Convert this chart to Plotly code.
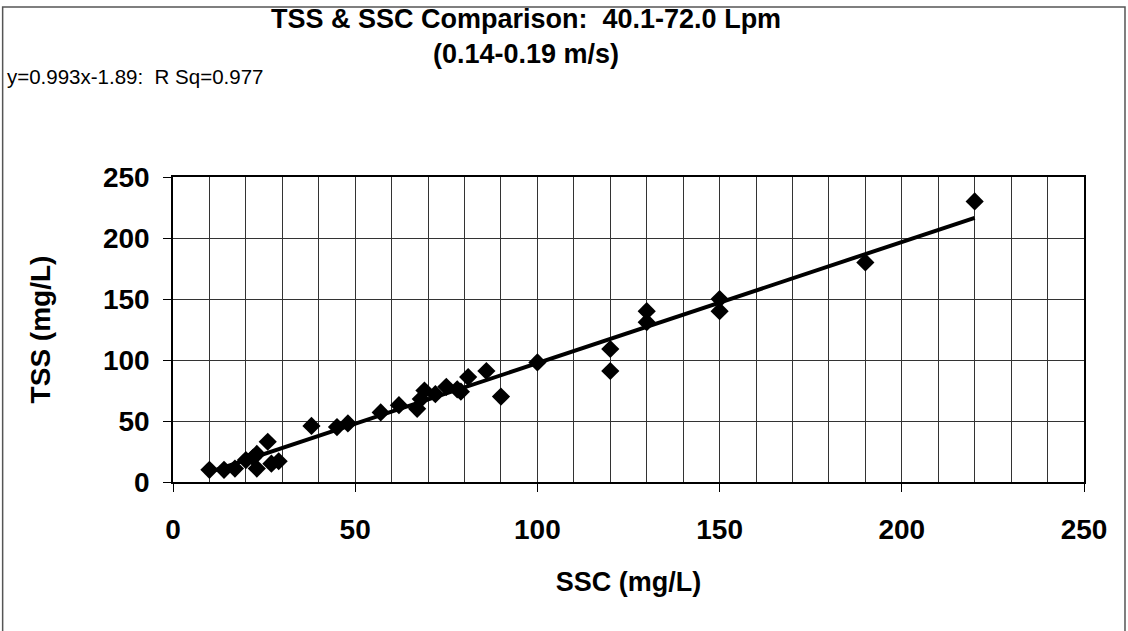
import plotly.graph_objects as go

# SSC (x) and TSS (y) readings, mg/L
ssc = [10, 14, 17, 20, 22, 23, 23, 26, 27, 29, 38, 45, 48, 57, 62, 67, 68, 69,
       72, 75, 78, 79, 81, 86, 90, 100, 120, 120, 130, 130, 150, 150, 190, 220]
tss = [10, 10, 11, 18, 20, 23, 11, 33, 15, 17, 46, 45, 48, 57, 63, 60, 68, 75,
       72, 78, 76, 74, 86, 91, 70, 98, 109, 91, 140, 131, 150, 140, 180, 230]

# regression reported on the chart
slope, intercept = 0.993, -1.89
fit_x = [min(ssc), max(ssc)]
fit_y = [slope * v + intercept for v in fit_x]

FONT = "Liberation Sans, Arial, sans-serif"

fig = go.Figure()
fig.add_trace(go.Scatter(x=fit_x, y=fit_y, mode="lines",
                         line=dict(color="black", width=4), showlegend=False))
fig.add_trace(go.Scatter(x=ssc, y=tss, mode="markers",
                         marker=dict(symbol="diamond", size=14, color="black"),
                         showlegend=False))

axis_common = dict(
    range=[0, 250], dtick=50, showgrid=True, gridcolor="#333333", gridwidth=1,
    showline=True, linecolor="black", linewidth=1.5, mirror=True,
    ticks="outside", ticklen=8, tickcolor="black", zeroline=False,
    tickfont=dict(family=FONT, size=28, color="black", weight="bold"),
)

fig.update_xaxes(**axis_common,
                 minor=dict(dtick=10, showgrid=True, gridcolor="#333333", gridwidth=1),
                 title=dict(text="<b>SSC (mg/L)</b>", standoff=28,
                            font=dict(family=FONT, size=27, color="black")),
                 ticklabelstandoff=14)
fig.update_yaxes(**axis_common,
                 title=dict(text="<b>TSS (mg/L)</b>", standoff=44,
                            font=dict(family=FONT, size=28, color="black")),
                 ticklabelstandoff=8)

# two-line title
fig.add_annotation(text="<b>TSS & SSC Comparison:  40.1-72.0 Lpm<br>(0.14-0.19 m/s)</b>",
                   xref="paper", yref="paper", x=0.3875, y=1.462, yanchor="middle",
                   showarrow=False, font=dict(family=FONT, size=27, color="black"))
fig.add_annotation(text="y=0.993x-1.89:  R Sq=0.977",
                   xref="paper", yref="paper", x=-0.1844, y=1.331,
                   xanchor="left", yanchor="middle", showarrow=False,
                   font=dict(family=FONT, size=20.5, color="black"))

# outer chart border
fig.add_shape(type="rect", xref="paper", yref="paper",
              x0=-0.187, x1=1.045, y0=-0.6, y1=1.557,
              line=dict(color="#555555", width=1.5), layer="below")

fig.update_layout(
    width=1128, height=631,
    margin=dict(l=173, r=44, t=177, b=149),
    paper_bgcolor="white", plot_bgcolor="white",
    font=dict(family=FONT, color="black"),
)

fig.write_html("out.html", config={"displayModeBar": False},
               post_script="document.body.style.margin='0px';")
